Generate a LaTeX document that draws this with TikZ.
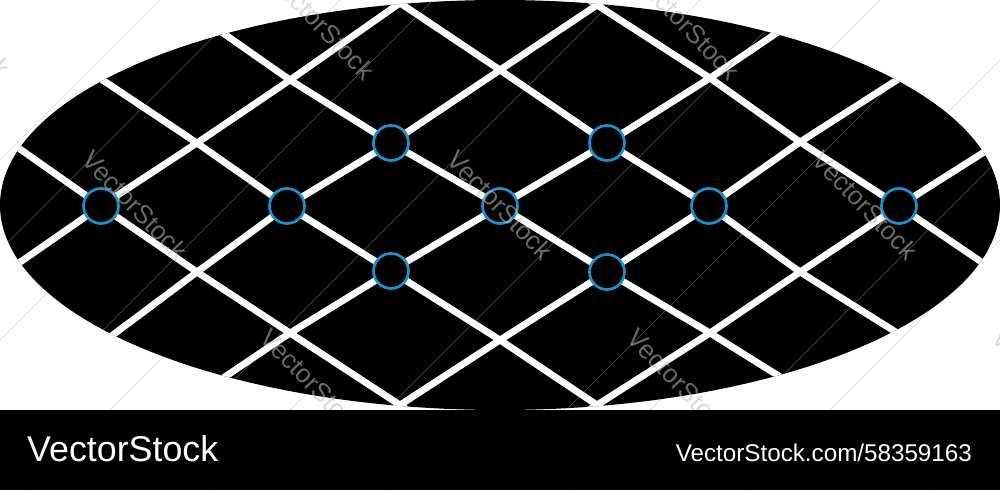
\documentclass[tikz,border=0pt]{standalone}
\usepackage{fontspec}
\setmainfont{Liberation Sans}
\definecolor{hubblue}{RGB}{28,146,204}
\definecolor{wmgray}{RGB}{190,190,190}
\definecolor{wmdark}{RGB}{72,72,72}
\definecolor{wmlight}{RGB}{220,220,220}
\begin{document}
\begin{tikzpicture}[x=1pt,y=-1pt,
  netline/.style={white,line width=6.8pt,line join=round,rounded corners=10pt},
  hub/.style={circle,draw=hubblue,fill=black,line width=2.7pt,minimum size=35pt,inner sep=0pt},
  wm/.style={font=\fontsize{26}{26}\selectfont,text=wmgray,text opacity=0.55,rotate=-46},
  wmin/.style={draw=wmdark,line width=0.7pt},
  wmout/.style={draw=wmlight,line width=0.7pt}]
\useasboundingbox (0,0) rectangle (1000,490);
\fill[white] (0,0) rectangle (1000,490);
% faint watermark lines on the white background
\foreach \c in {160,340,520,700,880,1060,1240,1420}
  \path[wmout] (\c-520,520) -- (\c+20,-20);
% the black ellipse
\fill[black] (500,205) ellipse [x radius=500pt, y radius=205pt];
% lattice points
\coordinate (p30) at (400,3);   \coordinate (p50) at (597,5);
\coordinate (p21) at (290,80);  \coordinate (p41) at (500,70);  \coordinate (p61) at (710,78);
\coordinate (p12) at (197,143); \coordinate (p32) at (391,143); \coordinate (p52) at (607,143); \coordinate (p72) at (800,142);
\coordinate (p03) at (101,206); \coordinate (p23) at (287,206); \coordinate (p43) at (500,206); \coordinate (p63) at (709,206); \coordinate (p83) at (899,206);
\coordinate (p14) at (197,272); \coordinate (p34) at (391,271); \coordinate (p54) at (607,272); \coordinate (p74) at (800,272);
\coordinate (p25) at (290,333); \coordinate (p45) at (500,340); \coordinate (p65) at (710,333);
\coordinate (p36) at (400,405); \coordinate (p56) at (597,405);
% ends beyond the rim
\coordinate (k3a) at (-10,128);  \coordinate (k3b) at (455,441);
\coordinate (k1a) at (65,55);    \coordinate (k1b) at (650,440);
\coordinate (km1a) at (180,3);   \coordinate (km1b) at (830,408);
\coordinate (km3a) at (350,-30); \coordinate (km3b) at (950,366);
\coordinate (km5a) at (540,-32); \coordinate (km5b) at (1030,295);
\coordinate (s3a) at (-20,290);  \coordinate (s3b) at (450,-32);
\coordinate (s5a) at (70,367);   \coordinate (s5b) at (650,-30);
\coordinate (s7a) at (180,407);  \coordinate (s7b) at (830,-3);
\coordinate (s9a) at (350,438);  \coordinate (s9b) at (950,46);
\coordinate (s11a) at (545,438); \coordinate (s11b) at (1030,123);
\begin{scope}
  \clip (500,205) ellipse [x radius=500pt, y radius=205pt];
  \foreach \c in {250,433,614,796,976,1158}
    \path[wmin] (\c-520,520) -- (\c+20,-20);
  % down-right strands
  \draw[netline] (k3a) -- (p03) -- (p14) -- (p25) -- (p36) -- (k3b);
  \draw[netline] (k1a) -- (p12) -- (p23) -- (p34) -- (p45) -- (p56) -- (k1b);
  \draw[netline] (km1a) -- (p21) -- (p32) -- (p43) -- (p54) -- (p65) -- (km1b);
  \draw[netline] (km3a) -- (p30) -- (p41) -- (p52) -- (p63) -- (p74) -- (km3b);
  \draw[netline] (km5a) -- (p50) -- (p61) -- (p72) -- (p83) -- (km5b);
  % up-right strands
  \draw[netline] (s3a) -- (p03) -- (p12) -- (p21) -- (p30) -- (s3b);
  \draw[netline] (s5a) -- (p14) -- (p23) -- (p32) -- (p41) -- (p50) -- (s5b);
  \draw[netline] (s7a) -- (p25) -- (p34) -- (p43) -- (p52) -- (p61) -- (s7b);
  \draw[netline] (s9a) -- (p36) -- (p45) -- (p54) -- (p63) -- (p72) -- (s9b);
  \draw[netline] (s11a) -- (p56) -- (p65) -- (p74) -- (p83) -- (s11b);
\end{scope}
% hubs
\foreach \p in {p03,p23,p32,p34,p43,p52,p54,p63,p83}
  \node[hub] (h\p) at (\p) {};
% watermark texts
\node[wm] (w1) at (-42,22) {VectorStock};
\node[wm] (w2) at (322,25) {VectorStock};
\node[wm] (w3) at (687,25) {VectorStock};
\node[wm] (w4) at (135,205) {VectorStock};
\node[wm] (w5) at (500,205) {VectorStock};
\node[wm] (w6) at (865,205) {VectorStock};
\node[wm] (w7) at (313,383) {VectorStock};
\node[wm] (w8) at (680,383) {VectorStock};
\node[wm] (w9) at (1045,383) {VectorStock};
% bottom bar
\fill[black] (0,410) rectangle (1000,490);
\node[anchor=base west,text=white,inner sep=0pt,font=\fontsize{35.8}{35.8}\selectfont] (brand) at (27,461) {VectorStock};
\node[anchor=base east,text=white,inner sep=0pt,font=\fontsize{24.2}{24.2}\selectfont] (ref) at (972,461) {VectorStock.com/58359163};
\end{tikzpicture}
\end{document}
